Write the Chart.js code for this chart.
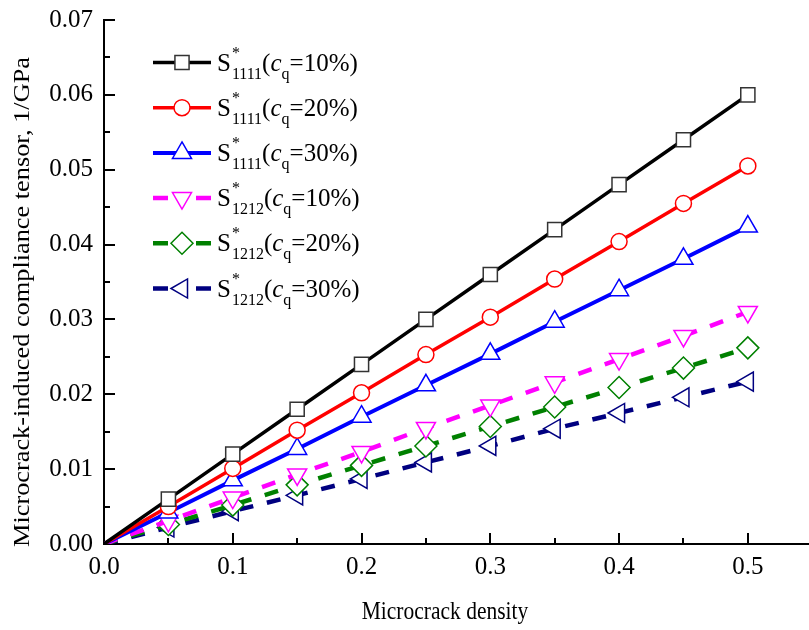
<!DOCTYPE html>
<html>
<head>
<meta charset="utf-8">
<script src="https://cdn.jsdelivr.net/npm/chart.js@4/dist/chart.umd.min.js"></script>
<style>
html,body{margin:0;padding:0;background:#fff;}
#wrap{width:809px;height:630px;}
</style>
</head>
<body>
<div id="wrap"><canvas id="c" width="809" height="630"></canvas></div>
<script>
// ---- data ----
const densities = [0, 0.05, 0.10, 0.15, 0.20, 0.25, 0.30, 0.35, 0.40, 0.45, 0.50];
const s1111_10 = [0, 0.0060, 0.0120, 0.0180, 0.0240, 0.0300, 0.0360, 0.0420, 0.0480, 0.0540, 0.0600];
const s1111_20 = [0, 0.0050, 0.0101, 0.0152, 0.0202, 0.0253, 0.0303, 0.0354, 0.0404, 0.0455, 0.0505];
const s1111_30 = [0, 0.0042, 0.0085, 0.0127, 0.0170, 0.0212, 0.0254, 0.0297, 0.0339, 0.0381, 0.0424];
const s1212_10 = [0, 0.0031, 0.0062, 0.0093, 0.0123, 0.0155, 0.0185, 0.0216, 0.0247, 0.0278, 0.0310];
const s1212_20 = [0, 0.0026, 0.0052, 0.0079, 0.0105, 0.0131, 0.0157, 0.0183, 0.0209, 0.0235, 0.0262];
const s1212_30 = [0, 0.0022, 0.0044, 0.0065, 0.0087, 0.0109, 0.0131, 0.0154, 0.0175, 0.0196, 0.0217];

const seriesSubscripts = ['1111', '1111', '1111', '1212', '1212', '1212'];
const seriesContents = ['10%', '20%', '30%', '10%', '20%', '30%'];
const xTickValues = [0, 0.1, 0.2, 0.3, 0.4, 0.5];
const yTickValues = [0, 0.01, 0.02, 0.03, 0.04, 0.05, 0.06, 0.07];
const xTitle = 'Microcrack density';
const yTitle = 'Microcrack-induced compliance tensor, 1/GPa';

const allSeries = [s1111_10, s1111_20, s1111_30, s1212_10, s1212_20, s1212_30];
const colors = ['#000000', '#ff0000', '#0000ff', '#ff00ff', '#008000', '#000080'];
const styles = [
  {pointStyle: 'rect', radius: 10, rotation: 0, dashed: false, lw: 3.5},
  {pointStyle: 'circle', radius: 8, rotation: 0, dashed: false, lw: 3.5},
  {pointStyle: 'triangle', radius: 11, rotation: 0, dashed: false, lw: 4},
  {pointStyle: 'triangle', radius: 11, rotation: 180, dashed: true, lw: 4.5},
  {pointStyle: 'rectRot', radius: 11, rotation: 0, dashed: true, lw: 4.5},
  {pointStyle: 'triangle', radius: 11, rotation: 270, dashed: true, lw: 4.5}
];
const SERIF = '"Liberation Serif", "Times New Roman", serif';

const datasets = allSeries.map((vals, i) => ({
  label: 'S*' + seriesSubscripts[i] + '(cq=' + seriesContents[i] + ')',
  data: densities.map((d, k) => ({x: d, y: vals[k]})),
  borderColor: colors[i],
  backgroundColor: '#ffffff',
  borderWidth: styles[i].lw,
  borderDash: styles[i].dashed ? [14, 14] : [],
  pointStyle: styles[i].pointStyle,
  pointRotation: styles[i].rotation,
  pointRadius: densities.map((d) => d === 0 ? 0 : styles[i].radius),
  pointBorderColor: i === 0 ? '#333333' : colors[i],
  pointBackgroundColor: '#ffffff',
  pointBorderWidth: 1.5,
  pointHoverRadius: styles[i].radius,
  tension: 0,
  fill: false
}));

function drawMarker(ctx, st, color, x, y) {
  ctx.save();
  ctx.strokeStyle = color;
  ctx.fillStyle = '#ffffff';
  ctx.lineWidth = 1.5;
  ctx.setLineDash([]);
  Chart.helpers.drawPoint(ctx, {pointStyle: st.pointStyle, rotation: st.rotation, radius: st.radius, borderWidth: 1.5}, x, y);
  ctx.restore();
}

const decorPlugin = {
  id: 'decor',
  afterDraw(chart) {
    const ctx = chart.ctx;
    const xs = chart.scales.x, ys = chart.scales.y;
    const left = chart.chartArea.left, bottom = chart.chartArea.bottom;
    ctx.save();
    ctx.strokeStyle = '#000';
    ctx.lineWidth = 2;
    ctx.setLineDash([]);
    // inward ticks (major at labelled values, minor half-way)
    for (let k = 1; k <= 10; k++) {
      const px = Math.round(xs.getPixelForValue(k * 0.05));
      const len = k % 2 === 0 ? 11 : 6;
      ctx.beginPath(); ctx.moveTo(px, bottom); ctx.lineTo(px, bottom - len); ctx.stroke();
    }
    for (let k = 1; k <= 14; k++) {
      const py = Math.round(ys.getPixelForValue(k * 0.005));
      const len = k % 2 === 0 ? 11 : 6;
      ctx.beginPath(); ctx.moveTo(left, py); ctx.lineTo(left + len, py); ctx.stroke();
    }
    ctx.fillStyle = '#000';
    // x axis title
    ctx.save();
    ctx.font = '21.5px ' + SERIF;
    ctx.textAlign = 'center';
    ctx.textBaseline = 'alphabetic';
    ctx.translate(445, 619);
    ctx.scale(1, 1.2);
    ctx.fillText(xTitle, 0, 0);
    ctx.restore();
    // y axis title
    ctx.save();
    ctx.font = '24px ' + SERIF;
    const yw = ctx.measureText(yTitle).width;
    ctx.textAlign = 'center';
    ctx.textBaseline = 'alphabetic';
    ctx.translate(29, 302);
    ctx.rotate(-Math.PI / 2);
    ctx.scale(490 / yw, 1);
    ctx.fillText(yTitle, 0, 0);
    ctx.restore();

    // legend
    const lx0 = 153, lx1 = 211, mx = 182, tx = 217;
    for (let i = 0; i < allSeries.length; i++) {
      const y = 62.5 + i * 45.2;
      const st = styles[i];
      ctx.strokeStyle = colors[i];
      ctx.lineWidth = st.lw;
      ctx.lineCap = 'butt';
      ctx.beginPath();
      if (st.dashed) {
        ctx.moveTo(lx0, y); ctx.lineTo(lx0 + 15, y);
        ctx.moveTo(lx1 - 15, y); ctx.lineTo(lx1, y);
      } else {
        ctx.moveTo(lx0, y); ctx.lineTo(lx1, y);
      }
      ctx.stroke();
      drawMarker(ctx, st, i === 0 ? '#333333' : colors[i], mx, y);

      const B = y + 8;
      let x = tx;
      ctx.fillStyle = '#000';
      ctx.textAlign = 'left';
      ctx.font = '25px ' + SERIF;
      ctx.fillText('S', x, B);
      x += ctx.measureText('S').width + 1;
      ctx.font = '16px ' + SERIF;
      ctx.fillText('*', x, B - 13);
      ctx.fillText(seriesSubscripts[i], x, B + 8);
      x += ctx.measureText(seriesSubscripts[i]).width;
      ctx.font = '25px ' + SERIF;
      ctx.fillText('(', x, B);
      x += ctx.measureText('(').width;
      ctx.font = 'italic 25px ' + SERIF;
      ctx.fillText('c', x, B);
      x += ctx.measureText('c').width;
      ctx.font = '16px ' + SERIF;
      ctx.fillText('q', x, B + 8);
      x += ctx.measureText('q').width;
      ctx.font = '25px ' + SERIF;
      ctx.fillText('=' + seriesContents[i] + ')', x, B);
    }
    ctx.restore();
  }
};

new Chart(document.getElementById('c'), {
  type: 'line',
  data: {datasets},
  plugins: [decorPlugin],
  options: {
    responsive: false,
    animation: false,
    devicePixelRatio: 1,
    layout: {autoPadding: false, padding: {left: 0, top: 20, right: 0, bottom: 0}},
    plugins: {legend: {display: false}, tooltip: {enabled: false}},
    scales: {
      x: {
        type: 'linear',
        min: 0,
        max: 0.5475,
        afterBuildTicks: (s) => { s.ticks = xTickValues.map(v => ({value: v})); },
        afterFit: (s) => { s.height = 86; s.paddingRight = 0; s.paddingLeft = 0; },
        ticks: {
          callback: (v) => Number(v).toFixed(1),
          font: {family: SERIF, size: 25},
          color: '#000',
          padding: 8,
          maxRotation: 0,
          autoSkip: false
        },
        grid: {display: false, drawTicks: false},
        border: {display: true, color: '#000', width: 2}
      },
      y: {
        type: 'linear',
        min: 0,
        max: 0.07,
        afterBuildTicks: (s) => { s.ticks = yTickValues.map(v => ({value: v})); },
        afterFit: (s) => { s.width = 104; s.paddingTop = 0; s.paddingBottom = 0; },
        ticks: {
          callback: (v) => Number(v).toFixed(2),
          font: {family: SERIF, size: 25},
          color: '#000',
          padding: 11,
          autoSkip: false
        },
        title: {display: false},
        grid: {display: false, drawTicks: false},
        border: {display: true, color: '#000', width: 2}
      }
    }
  }
});
</script>
</body>
</html>
